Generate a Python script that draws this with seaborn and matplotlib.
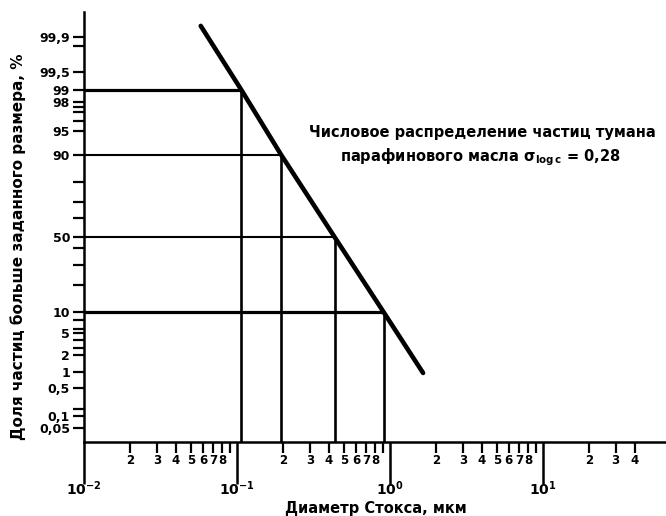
import numpy as np
import pandas as pd
import seaborn as sns
import matplotlib.pyplot as plt

# probability axis: percent value -> position along the axis
scale_pct = [0.01, 0.05, 0.1, 0.5, 1, 2, 5, 10, 20, 30, 40, 50, 60, 70, 80, 90, 95, 98, 99, 99.5, 99.9, 99.99]
scale_pos = [-205, -191, -179, -151, -135, -118, -96, -75, -48, -28, -11, 0, 19, 35, 55, 82, 106, 135, 147, 165, 200, 225]

y_major = [0.05, 0.1, 0.5, 1, 2, 5, 10, 50, 90, 95, 98, 99, 99.5, 99.9]
y_major_labels = ["0,05", "0,1", "0,5", "1", "2", "5", "10", "50", "90", "95", "98", "99", "99,5", "99,9"]
y_minor = [0.2, 3, 4, 6, 8, 20, 30, 40, 60, 70, 80, 96, 97, 97.5, 99.8]

x_major = [0.01, 0.1, 1, 10]
x_major_labels = [r"$\mathbf{10^{-2}}$", r"$\mathbf{10^{-1}}$", r"$\mathbf{10^{0}}$", r"$\mathbf{10^{1}}$"]
x_minor = [0.02, 0.03, 0.04, 0.05, 0.06, 0.07, 0.08, 0.09,
           0.2, 0.3, 0.4, 0.5, 0.6, 0.7, 0.8, 0.9,
           2, 3, 4, 5, 6, 7, 8, 9,
           20, 30, 40]
x_minor_labels = ["2", "3", "4", "5", "6", "7", "8", ""] * 3 + ["2", "3", "4"]

# distribution line and read-off levels
diag_diam = [0.058, 0.107, 0.195, 0.435, 0.91, 1.65]
diag_pct = [99.94, 99, 90, 50, 10, 0.97]
level_pct = [99, 90, 50, 10]
level_diam = [0.107, 0.195, 0.435, 0.91]

sns.set_style("ticks", {"text.color": "black", "axes.edgecolor": "black",
                        "xtick.color": "black", "ytick.color": "black",
                        "axes.labelcolor": "black"})
plt.rcParams['font.family'] = ['DejaVu Sans']
plt.rcParams['font.weight'] = 'bold'
plt.rcParams['mathtext.default'] = 'bf'

fig = plt.figure(figsize=(6.66, 5.16), dpi=100)
ax = fig.add_axes([84 / 666, 1 - 442 / 516, 1 - 84 / 666, 430 / 516])


def fwd(p):
    return np.interp(p, scale_pct, scale_pos)


def inv(c):
    return np.interp(c, scale_pos, scale_pct)


ax.set_xscale("log")
ax.set_yscale("function", functions=(fwd, inv))
ax.set_xlim(0.01, 64)
ax.set_ylim(0.01, 99.99)

df = pd.DataFrame({"d": diag_diam, "p": diag_pct})
sns.lineplot(data=df, x="d", y="p", color="black", linewidth=3.3,
             sort=False, estimator=None, ax=ax)

h_lw = [2.3, 1.5, 1.5, 2.3]
for p, d, lw in zip(level_pct, level_diam, h_lw):
    ax.plot([0.01, d], [p, p], color="black", linewidth=lw, solid_capstyle="butt")
    ax.plot([d, d], [0.01, p], color="black", linewidth=1.9, solid_capstyle="butt")

ax.set_yticks(y_major)
ax.set_yticklabels(y_major_labels, fontsize=9, fontweight="bold")
ax.set_yticks(y_minor, minor=True)
ax.set_yticklabels([], minor=True)
ax.tick_params(axis="y", which="both", length=8, width=1.6, pad=2, direction="out")

ax.set_xticks(x_major)
ax.set_xticklabels(x_major_labels, fontsize=10)
ax.set_xticks(x_minor, minor=True)
ax.set_xticklabels(x_minor_labels, minor=True, fontsize=8.5, fontweight="bold")
ax.tick_params(axis="x", which="major", length=30, width=1.8, pad=-3)
ax.tick_params(axis="x", which="minor", length=8, width=1.6, pad=1)

for s in ["left", "bottom"]:
    ax.spines[s].set_linewidth(1.8)
sns.despine(ax=ax)
ax.set_xlabel("")
ax.set_ylabel("")

fig.text(376 / 666, 1 - 508 / 516, "Диаметр Стокса, мкм", ha="center", va="center",
         fontsize=10.5, fontweight="bold")
fig.text(18 / 666, 1 - 247 / 516, "Доля частиц больше заданного размера, %",
         rotation=90, ha="center", va="center", fontsize=11, fontweight="bold")
fig.text(482 / 666, 1 - 133 / 516, "Числовое распределение частиц тумана",
         ha="center", va="center", fontsize=10.5, fontweight="bold")
fig.text(480 / 666, 1 - 157 / 516, r"парафинового масла σ$_{\mathbf{log\,c}}$ = 0,28",
         ha="center", va="center", fontsize=10.5, fontweight="bold")

fig.savefig("out.png", dpi=100)
